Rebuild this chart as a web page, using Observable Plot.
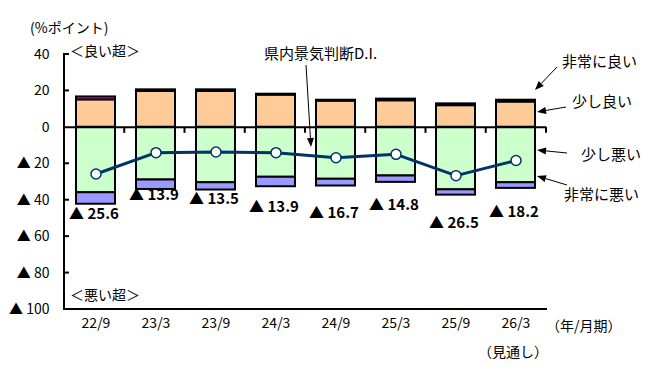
<!DOCTYPE html>
<html><head><meta charset="utf-8">
<script src="https://cdn.jsdelivr.net/npm/d3@7"></script>
<script src="https://cdn.jsdelivr.net/npm/@observablehq/plot@0.6"></script>
<style>body{margin:0;background:#fff;} svg{display:block;}</style>
</head><body><div id="chart"></div>
<script>
const periods = ["22/9","23/3","23/9","24/3","24/9","25/3","25/9","26/3"];
const veryGood = [1.6,0.9,0.9,0.5,0.5,0.9,1.0,1.0];
const slightlyGood = [15.1,19.7,19.7,17.7,14.4,14.6,11.9,13.9];
const slightlyBad = [35.9,28.9,30.4,27.4,28.5,26.7,34.3,30.4];
const veryBad = [6.3,5.2,4.0,5.2,3.7,3.5,2.9,3.1];
const diValues = [-25.6,-13.9,-13.5,-13.9,-16.7,-14.8,-26.5,-18.2];
const diLabelAt = [-47.5,-37,-39.2,-43.6,-47,-43,-52.5,-46.4];
const yTicks = [40,20,0,-20,-40,-60,-80,-100];

const FONT = "'Noto Sans CJK JP', 'Noto Sans', sans-serif";

const segs = periods.map((p,i)=>({
  p,
  sgTop: slightlyGood[i],
  vgTop: slightlyGood[i] + veryGood[i],
  sbBot: -slightlyBad[i],
  vbBot: -slightlyBad[i] - veryBad[i]
}));
const di = periods.map((p,i)=>({p, v: diValues[i], at: diLabelAt[i]}));

const barOpts = {x:"p", stroke:"black", strokeWidth:2};
const chart = Plot.plot({
  width: 657, height: 371,
  marginLeft: 64, marginRight: 111, marginTop: 54, marginBottom: 62,
  style: {fontFamily: FONT, fontSize: "14px", color: "black", background: "white"},
  x: {domain: periods, paddingInner: 0.35, paddingOuter: 0.175, label: null},
  y: {domain: [-100, 40], label: null},
  marks: [
    Plot.barY(segs, {...barOpts, y1: 0, y2: "sgTop", fill: "#FFCC99"}),
    Plot.barY(segs, {...barOpts, y1: "sgTop", y2: "vgTop", fill: "#FF00FF"}),
    Plot.barY(segs, {...barOpts, y1: "sbBot", y2: 0, fill: "#CCFFCC"}),
    Plot.barY(segs, {...barOpts, y1: "vbBot", y2: "sbBot", fill: "#9999FF"}),
    Plot.ruleY([0], {stroke: "black", strokeWidth: 2}),
    Plot.line(di, {x: "p", y: "v", stroke: "#003366", strokeWidth: 3}),
    Plot.dot(di, {x: "p", y: "v", r: 5, fill: "white", stroke: "#003366", strokeWidth: 1.5}),
    Plot.text(di, {x: "p", y: "at", text: d => "▲ " + (-d.v).toFixed(1), fontSize: 15, fontWeight: "bold", dx: -2}),
    Plot.axisY({ticks: yTicks, tickSize: 0, tickPadding: 15, fontSize: 14,
      tickFormat: d => d < 0 ? "▲ " + (-d) : String(d), label: null}),
    Plot.axisX({tickSize: 0, tickPadding: 9, fontSize: 14, label: null})
  ]
});
document.getElementById("chart").append(chart);

// frame decorations drawn through the plot's scales
const xs = chart.scale("x"), ys = chart.scale("y");
const L = xs.range[0], R = xs.range[1];
const step = (R - L) / periods.length;
const Y = v => ys.apply(v);
const svg = d3.select(chart);
const g = svg.append("g").attr("stroke", "black").attr("fill", "none");
g.append("line").attr("x1", L).attr("x2", L).attr("y1", Y(40) - 1).attr("y2", Y(-100) + 1).attr("stroke-width", 2);
g.append("line").attr("x1", L).attr("x2", R + 1).attr("y1", Y(-100)).attr("y2", Y(-100)).attr("stroke-width", 2);
yTicks.filter(t => t !== 0 && t !== -100).forEach(t => {
  g.append("line").attr("x1", L).attr("x2", L + 5).attr("y1", Y(t)).attr("y2", Y(t)).attr("stroke-width", 2);
});
for (let k = 1; k <= periods.length; k++) {
  const xx = L + k * step;
  g.append("line").attr("x1", xx).attr("x2", xx).attr("y1", Y(0)).attr("y2", Y(0) + 6).attr("stroke-width", 2);
}

const ann = svg.append("g").attr("font-family", FONT).attr("fill", "black");
function label(txt, x, y, size, anchor) {
  ann.append("text").attr("x", x).attr("y", y).attr("font-size", size || 15)
    .attr("text-anchor", anchor || "start").attr("dominant-baseline", "central").text(txt);
}
function arrow(x1, y1, x2, y2) {
  const a = Math.atan2(y2 - y1, x2 - x1), len = 9, w = 3.5;
  const bx = x2 - len * Math.cos(a), by = y2 - len * Math.sin(a);
  ann.append("line").attr("x1", x1).attr("y1", y1).attr("x2", bx).attr("y2", by).attr("stroke", "black").attr("stroke-width", 1);
  const p = [[x2, y2], [bx + w * Math.sin(a), by - w * Math.cos(a)], [bx - w * Math.sin(a), by + w * Math.cos(a)]];
  ann.append("polygon").attr("points", p.map(q => q.join(",")).join(" ")).attr("fill", "black");
}
label("(%ポイント)", 30, 27, 14);
label("＜良い超＞", 70, 50, 14);
label("＜悪い超＞", 70, 294, 14);
label("県内景気判断D.I.", 264, 52, 15);
arrow(306, 65, 311, 147);
label("非常に良い", 562, 60, 15);
arrow(557, 67, 535, 90);
label("少し良い", 572, 100, 15);
arrow(566, 107, 537, 112);
label("少し悪い", 581, 153, 15);
arrow(567, 153, 537, 150);
label("非常に悪い", 564, 193, 15);
arrow(567, 185, 537, 176);
label("（年/月期）", 546, 325, 14);
label("（見通し）", 513, 351, 14, "middle");
</script>
</body></html>
